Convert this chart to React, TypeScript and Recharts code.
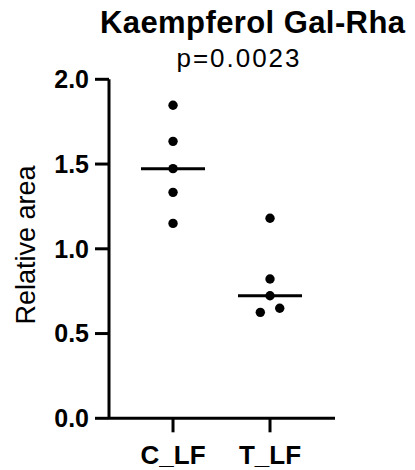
import React from "react";
import {
  ScatterChart, Scatter, XAxis, YAxis, ReferenceLine, Customized,
} from "recharts";

const categories = ["C_LF", "T_LF"];
const cValues = [1.847, 1.634, 1.473, 1.333, 1.15];
const tValues = [1.18, 0.822, 0.723, 0.625, 0.649];
// horizontal jitter of each point around its category
const cJitter = [0, 0, 0, 0, 0];
const tJitter = [0, 0, 0, -0.1, 0.1];
const yTicks = [0, 0.5, 1, 1.5, 2];

const FONT = "'Liberation Sans', Arial, Helvetica, sans-serif";

const toPoints = (vals: number[], jit: number[], pos: number) =>
  vals.map((v, i) => ({ x: pos + jit[i], y: v }));

const median = (vals: number[]) => {
  const s = [...vals].sort((a, b) => a - b);
  const m = Math.floor(s.length / 2);
  return s.length % 2 ? s[m] : (s[m - 1] + s[m]) / 2;
};

const cData = toPoints(cValues, cJitter, 1);
const tData = toPoints(tValues, tJitter, 2);
const cMed = median(cValues);
const tMed = median(tValues);

const Dot = (props: any) => (
  <circle cx={props.cx} cy={props.cy} r={4.7} fill="#000" />
);

const Titles = () => (
  <g fontFamily={FONT} fill="#000">
    <text x={252.5} y={33} textAnchor="middle" fontSize={31} fontWeight="bold"
      textLength={305}>
      Kaempferol Gal-Rha
    </text>
    <text x={238} y={66.5} textAnchor="middle" fontSize={26} textLength={123}>
      p=0.0023
    </text>
    <text x={35} y={245} textAnchor="middle" fontSize={27}
      transform="rotate(-90, 35, 245)">
      Relative area
    </text>
  </g>
);

export default function App() {
  return (
    <div style={{ position: "absolute", left: 0, top: 0, width: 415, height: 470, background: "#fff" }}>
      <ScatterChart width={415} height={470}
        margin={{ top: 79.3, right: 80, bottom: 1.7, left: 9 }}>
        <XAxis
          type="number"
          dataKey="x"
          domain={[0.34, 2.67]}
          ticks={[1, 2]}
          tickFormatter={(v) => categories[v - 1]}
          height={50}
          tickSize={14}
          tickMargin={13}
          axisLine={{ stroke: "#000", strokeWidth: 3 }}
          tickLine={{ stroke: "#000", strokeWidth: 3 }}
          tick={{ fill: "#000", fontSize: 26, fontWeight: "bold", fontFamily: FONT }}
        />
        <YAxis
          type="number"
          dataKey="y"
          domain={[0, 2]}
          ticks={yTicks}
          tickFormatter={(v) => v.toFixed(1)}
          width={100}
          tickSize={14}
          tickMargin={6}
          axisLine={{ stroke: "#000", strokeWidth: 3 }}
          tickLine={{ stroke: "#000", strokeWidth: 3 }}
          tick={{ fill: "#000", fontSize: 25, fontWeight: "bold", fontFamily: FONT }}
        />
        <ReferenceLine segment={[{ x: 1 - 0.33, y: cMed }, { x: 1 + 0.33, y: cMed }]}
          stroke="#000" strokeWidth={3} />
        <ReferenceLine segment={[{ x: 2 - 0.33, y: tMed }, { x: 2 + 0.33, y: tMed }]}
          stroke="#000" strokeWidth={3} />
        <Scatter data={cData} shape={<Dot />} isAnimationActive={false} />
        <Scatter data={tData} shape={<Dot />} isAnimationActive={false} />
        <Customized component={<Titles />} />
      </ScatterChart>
    </div>
  );
}
